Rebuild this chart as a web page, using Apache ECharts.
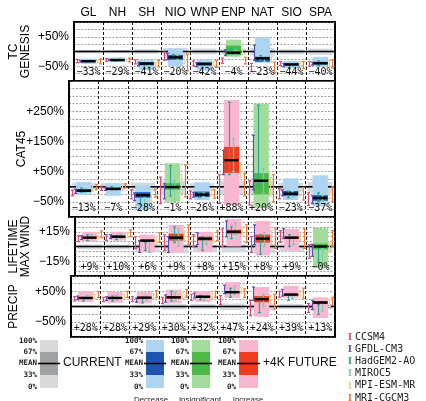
<!DOCTYPE html>
<html><head><meta charset="utf-8">
<script src="https://cdn.jsdelivr.net/npm/echarts@6/dist/echarts.min.js"></script>
<style>html,body{margin:0;padding:0;background:#fff}#c{width:426px;height:401px}</style>
</head><body><div id="c"></div>
<script>
// ---------- data ----------
const regions = ['GL','NH','SH','NIO','WNP','ENP','NAT','SIO','SPA'];
const models = ['CCSM4','GFDL-CM3','HadGEM2-AO','MIROC5','MPI-ESM-MR','MRI-CGCM3'];
const modelColors = ['#e2487c','#5a4fb0','#2fa39a','#7fcaa2','#e9d38e','#f07a30'];

// TC GENESIS
const genLabels = ['−33%','−29%','−41%','−20%','−42%','−4%','−23%','−44%','−40%'];
const genSig = ['d','d','d','d','d','i','d','d','d'];
const genMean = [-33,-29,-41,-20,-42,-4,-23,-44,-40];
const genLo  = [-42,-36,-62,-50,-65,-18,-38,-56,-50];
const genQ33 = [-36,-32,-47,-28,-48,-12,-35,-48,-44];
const genQ67 = [-30,-26,-36,-12,-37,20,-18,-39,-35];
const genHi  = [-24,-20,-28,10,-28,40,48,-32,-18];
const genCurLo = [-6,-6,-8,-16,-10,-12,-14,-10,-12];
const genCurHi = [6,6,8,12,10,10,12,8,10];
const genModelLo = [
  [-38,-33,-42,-30,-48,-40,-68,-48,-50],
  [-36,-31,-48,-28,-52,-14,-30,-52,-46],
  [-36,-32,-58,-24,-56,-8,-30,-56,-48],
  [-35,-30,-62,-26,-50,-12,-34,-50,-44],
  [-38,-33,-50,-40,-48,-10,-36,-48,-50],
  [-42,-35,-52,-66,-54,-42,-72,-58,-56]];
const genModelHi = [
  [-27,-24,-28,-2,-32,-22,-40,-34,-34],
  [-30,-26,-36,-6,-38,6,22,-40,-36],
  [-31,-27,-44,-10,-40,10,-14,-42,-32],
  [-29,-25,-46,-12,-40,4,-20,-40,-34],
  [-30,-26,-38,-10,-34,6,-18,-36,-30],
  [-25,-22,-30,-8,-30,-20,-36,-34,-28]];
const genTicks = [-50,50];

// CAT45
const catLabels = ['−13%','−7%','−28%','−1%','−26%','+88%','+20%','−23%','−37%'];
const catSig = ['d','d','d','i','d','u','i','d','d'];
const catMean = [-13,-7,-28,-1,-26,88,20,-23,-37];
const catLo  = [-27,-30,-75,-50,-44,-60,-70,-44,-65];
const catQ33 = [-17,-11,-36,-10,-34,46,-25,-30,-46];
const catQ67 = [-8,-3,-18,12,-16,132,45,-14,-28];
const catHi  = [16,12,5,78,15,287,275,28,38];
const catCurLo = [-12,-14,-16,-24,-14,-24,-24,-16,-20];
const catCurHi = [12,12,14,20,12,20,20,14,16];
const catModelLo = [
  [-30,-12,-40,-56,-40,-55,-60,-40,-62],
  [-22,-12,-46,-40,-34,40,-10,-30,-56],
  [-18,-10,-60,-30,-36,40,0,-36,-50],
  [-20,-12,-70,-50,-32,50,-20,-34,-46],
  [-16,-6,-48,-20,-30,30,-30,-30,-40],
  [-10,-4,-34,-34,-38,-30,-50,-44,-50]];
const catModelHi = [
  [-12,2,-10,32,-14,40,20,-6,-20],
  [-8,-2,-20,10,-18,120,170,-10,-30],
  [-4,0,-30,70,-20,280,270,-14,-20],
  [-6,-2,-36,20,-20,160,60,-16,-28],
  [4,8,-24,40,-12,80,30,-12,-20],
  [8,10,-8,72,-10,45,40,-2,0]];
const catTicks = [-50,50,150,250];

// LIFETIME MAX WIND
const lmwLabels = ['+9%','+10%','+6%','+9%','+8%','+15%','+8%','+9%','−0%'];
const lmwSig = ['u','u','u','u','u','u','u','u','i'];
const lmwMean = [9,10,6,9,8,15,8,9,0];
const lmwLo  = [5,6,-6,-6,-6,0,-9,-4,-22];
const lmwQ33 = [8,9,5,6,6,13,4,8,-3];
const lmwQ67 = [10,11,7,13,10,17,12,10,3];
const lmwHi  = [15,15,12,22,15,28,26,18,19];
const lmwCurLo = [-3,-3,-6,-7,-5,-6,-7,-5,-6];
const lmwCurHi = [2,2,2,3,2,2,3,2,3];
const lmwModelLo = [
  [5,6,-2,-4,0,0,-6,4,-12],
  [7,8,-6,-6,2,10,2,8,-10],
  [6,7,-4,4,-4,8,-8,0,-16],
  [8,8,-6,0,2,12,0,2,-20],
  [8,9,2,6,4,12,2,6,-6],
  [9,10,4,2,6,4,-2,-2,0]];
const lmwModelHi = [
  [11,12,10,12,12,18,10,16,2],
  [11,12,6,10,14,26,22,18,2],
  [12,11,4,20,10,20,12,12,0],
  [12,13,6,18,10,24,14,10,-2],
  [14,14,10,16,14,20,16,14,4],
  [16,17,14,22,16,22,18,18,16]];
const lmwTicks = [-15,15];

// PRECIP
const preLabels = ['+28%','+28%','+29%','+30%','+32%','+47%','+24%','+39%','+13%'];
const preSig = ['u','u','u','u','u','u','u','u','u'];
const preMean = [28,28,29,30,32,47,24,39,13];
const preLo  = [15,12,10,10,15,28,-34,28,-38];
const preQ33 = [26,25,26,26,29,44,14,36,8];
const preQ67 = [31,31,32,34,35,50,34,42,18];
const preHi  = [50,48,48,55,50,80,64,68,30];
const preCurLo = [-4,-5,-6,-10,-8,-12,-12,-8,-10];
const preCurHi = [4,5,6,8,8,10,10,8,8];
const preModelLo = [
  [18,16,16,10,20,6,-30,30,-20],
  [22,20,14,14,28,42,20,34,-10],
  [18,18,12,18,22,30,-20,20,-26],
  [24,22,20,20,20,40,0,26,-14],
  [26,26,26,26,26,44,10,34,0],
  [30,30,30,30,30,30,-10,28,4]];
const preModelHi = [
  [32,30,32,30,40,36,20,50,10],
  [34,32,28,38,44,70,64,56,20],
  [30,34,26,50,36,60,30,40,6],
  [36,36,34,46,34,66,40,44,12],
  [40,40,42,44,42,62,36,52,24],
  [48,50,52,56,50,58,40,60,30]];
const preTicks = [-50,50];

// ---------- build ----------
const sigColors = {
  d:{light:'#add5f1', dark:'#1f55b0'},
  i:{light:'#a3dd9c', dark:'#4dba48'},
  u:{light:'#f8b6d1', dark:'#f03c1f'}
};
const sigIndex = {d:0,i:1,u:2};
const sigList = ['d','i','u'];

const panels = [
  {name:'TC\nGENESIS', gap:42, top:22, h:59, min:-100, max:100, interval:25, ticks:genTicks, labels:genLabels, sig:genSig,
   mean:genMean, lo:genLo, q33:genQ33, q67:genQ67, hi:genHi, curLo:genCurLo, curHi:genCurHi, mLo:genModelLo, mHi:genModelHi},
  {name:'CAT45', gap:41, top:81, h:136, min:-100, max:350, interval:25, ticks:catTicks, labels:catLabels, sig:catSig,
   mean:catMean, lo:catLo, q33:catQ33, q67:catQ67, hi:catHi, curLo:catCurLo, curHi:catCurHi, mLo:catModelLo, mHi:catModelHi},
  {name:'LIFETIME\nMAX WIND', gap:43, top:217, h:59, min:-30, max:30, interval:5, ticks:lmwTicks, labels:lmwLabels, sig:lmwSig,
   mean:lmwMean, lo:lmwLo, q33:lmwQ33, q67:lmwQ67, hi:lmwHi, curLo:lmwCurLo, curHi:lmwCurHi, mLo:lmwModelLo, mHi:lmwModelHi},
  {name:'PRECIP', gap:51, top:276, h:61, min:-100, max:100, interval:25, ticks:preTicks, labels:preLabels, sig:preSig,
   mean:preMean, lo:preLo, q33:preQ33, q67:preQ67, hi:preHi, curLo:preCurLo, curHi:preCurHi, mLo:preModelLo, mHi:preModelHi}
];

const modelOffsets = [-0.41,-0.29,-0.09,0.05,0.29,0.41];

function renderCell(params, api) {
  const i = api.value(0);
  const X = api.coord([i, 0])[0];
  const bw = api.size([1, 0])[0];
  const Y = v => api.coord([i, v])[1];
  const col = sigColors[sigList[api.value(8)]];
  const rect = (x0, x1, v0, v1, fill) => {
    const a = Y(v1), b = Y(v0);
    return {type:'rect', shape:{x:x0, y:Math.min(a,b), width:x1-x0, height:Math.abs(b-a)}, style:{fill:fill}};
  };
  const ch = [];
  ch.push(rect(X-0.42*bw, X+0.42*bw, api.value(1), api.value(2), '#d2dbe3'));
  ch.push({type:'line', shape:{x1:X-0.5*bw, y1:Y(0), x2:X+0.5*bw, y2:Y(0)}, style:{stroke:'#000', lineWidth:1.6}});
  ch.push(rect(X-0.26*bw, X+0.26*bw, api.value(3), api.value(6), col.light));
  ch.push(rect(X-0.26*bw, X+0.26*bw, api.value(4), api.value(5), col.dark));
  for (let m = 0; m < 6; m++) {
    const mx = Math.round(X + modelOffsets[m]*bw) + 0.5;
    const ya = Y(api.value(9+2*m)), yb = Y(api.value(10+2*m));
    const c = modelColors[m];
    ch.push({type:'line', shape:{x1:mx, y1:ya, x2:mx, y2:yb}, style:{stroke:c, lineWidth:1.2}});
    ch.push({type:'line', shape:{x1:mx-1.5, y1:ya, x2:mx+1.5, y2:ya}, style:{stroke:c, lineWidth:1.2}});
    ch.push({type:'line', shape:{x1:mx-1.5, y1:yb, x2:mx+1.5, y2:yb}, style:{stroke:c, lineWidth:1.2}});
  }
  ch.push({type:'line', shape:{x1:X-0.24*bw, y1:Y(api.value(7)), x2:X+0.24*bw, y2:Y(api.value(7))}, style:{stroke:'#000', lineWidth:2.4}});
  return {type:'group', children:ch};
}

const grids = [], xAxes = [], yAxes = [], series = [];
panels.forEach((p, k) => {
  grids.push({left:69, right:91, top:p.top, height:p.h, show:true, borderColor:'#000', borderWidth:2, backgroundColor:'transparent'});
  xAxes.push({gridIndex:k, type:'category', data:regions, position:'bottom', z:5,
    axisLine:{show:false}, axisTick:{show:false},
    splitLine:{show:true, interval:0, lineStyle:{color:'#000', type:[3,2], width:0.9}},
    axisLabel:{inside:true, margin:4, interval:0, fontSize:10, fontFamily:'DejaVu Sans Mono', color:'#111',
      formatter:(v, idx) => p.labels[idx]}});
  yAxes.push({gridIndex:k, type:'value', min:p.min, max:p.max, interval:p.interval,
    name:p.name, nameLocation:'middle', nameRotate:90, nameGap:p.gap, nameMoveOverlap:false,
    nameTextStyle:{fontSize:12, lineHeight:12, color:'#000', fontFamily:'Liberation Sans'},
    axisLine:{show:false}, axisTick:{show:false},
    splitLine:{show:true, lineStyle:{color:'#777', type:[2,1.5], width:0.7}},
    axisLabel:{fontSize:12, color:'#000', margin:5, fontFamily:'Liberation Sans',
      formatter:v => p.ticks.includes(v) ? (v > 0 ? '+' : '−') + Math.abs(v) + '%' : ''}});
  const data = regions.map((r, i) => {
    const row = [i, p.curLo[i], p.curHi[i], p.lo[i], p.q33[i], p.q67[i], p.hi[i], p.mean[i], sigIndex[p.sig[i]]];
    for (let m = 0; m < 6; m++) row.push(p.mLo[m][i], p.mHi[m][i]);
    return row;
  });
  series.push({type:'custom', xAxisIndex:k, yAxisIndex:k, renderItem:renderCell, data:data, z:2, silent:true});
});
// column headers
xAxes.push({gridIndex:0, type:'category', data:regions, position:'top',
  axisLine:{show:false}, axisTick:{show:false}, splitLine:{show:false},
  axisLabel:{interval:0, fontSize:12, margin:3, color:'#000', fontFamily:'Liberation Sans'}});

// ---------- legend graphics ----------
const g = [];
const lblFont = 'bold 7.5px DejaVu Sans Mono';
function legendBox(x0, x1, light, dark) {
  g.push({type:'rect', shape:{x:x0, y:340, width:x1-x0, height:48}, style:{fill:light}});
  g.push({type:'rect', shape:{x:x0, y:352, width:x1-x0, height:23}, style:{fill:dark}});
  g.push({type:'line', shape:{x1:x0-2, y1:363.5, x2:x1+2, y2:363.5}, style:{stroke:'#000', lineWidth:1.6}});
  const lx = x0 - 3;
  [['100%',341],['67%',352],['MEAN',363.5],['33%',375.5],['0%',387]].forEach(t => {
    g.push({type:'text', x:lx, y:t[1], style:{text:t[0], font:lblFont, fill:'#222', align:'right', verticalAlign:'middle'}});
  });
}
legendBox(40, 58, '#d9dadb', '#9fa2a4');
legendBox(146, 164, sigColors.d.light, sigColors.d.dark);
legendBox(192, 210, sigColors.i.light, sigColors.i.dark);
legendBox(239, 258, sigColors.u.light, sigColors.u.dark);
g.push({type:'text', x:63, y:363, style:{text:'CURRENT', font:'12px Liberation Sans', fill:'#111', align:'left', verticalAlign:'middle'}});
g.push({type:'text', x:263, y:363, style:{text:'+4K FUTURE', font:'12px Liberation Sans', fill:'#111', align:'left', verticalAlign:'middle'}});
[['Decrease',151],['Insignificant',200],['Increase',248]].forEach(t => {
  g.push({type:'text', x:t[1], y:395.5, style:{text:t[0], font:'8px Liberation Sans', fill:'#222', align:'center', verticalAlign:'top'}});
});
models.forEach((m, k) => {
  const y = 337 + k*12.2;
  g.push({type:'text', x:350, y:y, style:{text:'I', font:'bold 11px Liberation Serif', fill:modelColors[k], align:'center', verticalAlign:'middle'}});
  g.push({type:'text', x:355, y:y, style:{text:m, font:'10px DejaVu Sans Mono', fill:'#222', align:'left', verticalAlign:'middle'}});
});

const chart = echarts.init(document.getElementById('c'), null, {renderer:'canvas'});
chart.setOption({
  animation:false,
  backgroundColor:'#fff',
  grid:grids, xAxis:xAxes, yAxis:yAxes, series:series,
  graphic:{elements:g}
});
</script></body></html>
